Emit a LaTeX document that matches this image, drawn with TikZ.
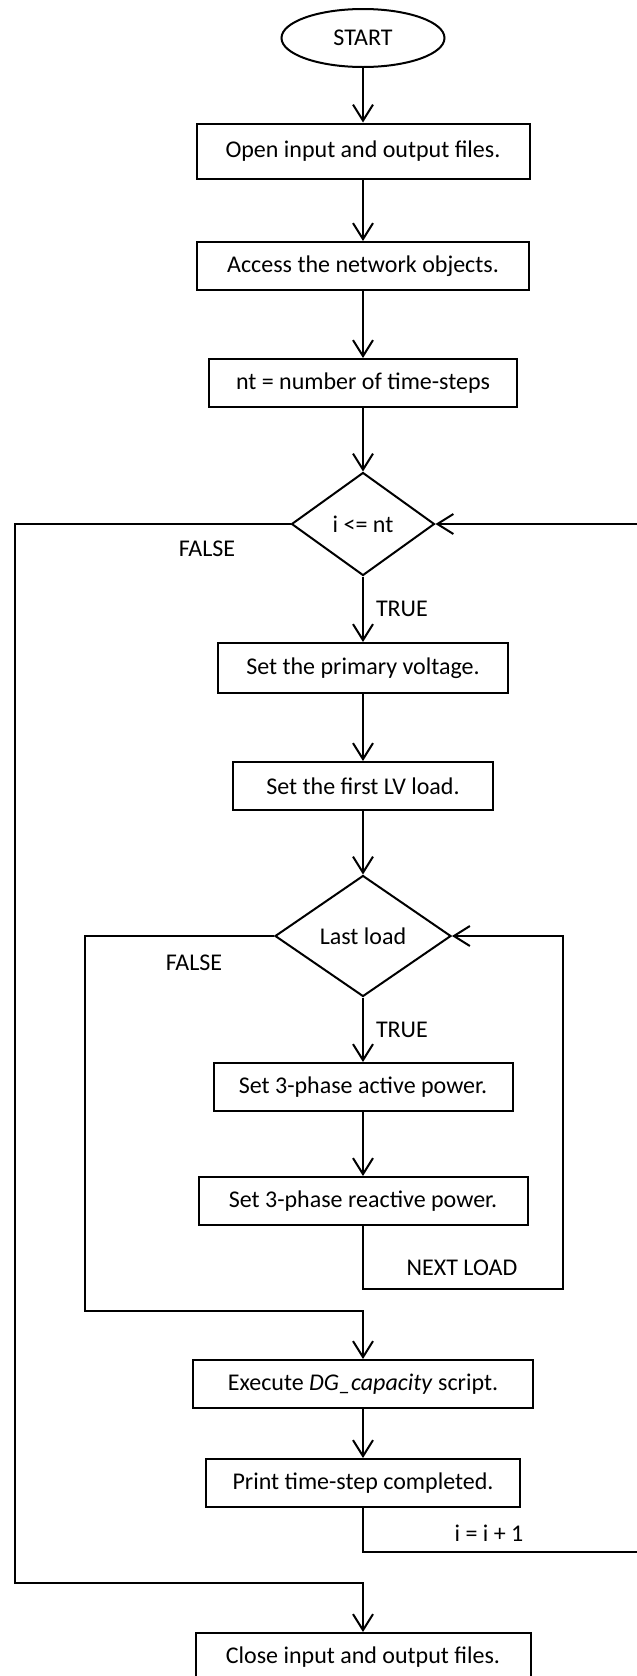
\documentclass[tikz,border=0pt]{standalone}
\usepackage{fontspec}
\setmainfont{Carlito}
\usepackage{tikz}
\usetikzlibrary{shapes.geometric,arrows.meta}
\tikzset{
  block/.style = {draw, rectangle, minimum height=24pt, inner sep=0pt},
  decision/.style = {draw, diamond, inner sep=0pt},
  terminal/.style = {draw, ellipse, inner sep=0pt},
  tag/.style = {inner sep=0pt},
  line/.style = {draw, -{Straight Barb[length=8pt,width=10pt]}},
}

\begin{document}
\begin{tikzpicture}[x=0.5pt,y=-0.5pt,line width=1pt,font=\fontsize{12}{14}\selectfont]
  \useasboundingbox (0,0) rectangle (637,1676);

  % main column
  \node[terminal, minimum width=81.5pt, minimum height=29pt] (start) at (363,38) {START};
  \node[block, minimum width=166.5pt, minimum height=27.5pt] (open) at (363,151) {Open input and output files.};
  \node[block, minimum width=166pt] (access) at (363,266) {Access the network objects.};
  \node[block, minimum width=154pt] (nt) at (363,383) {nt = number of time-steps};
  \node[decision, minimum width=71.5pt, minimum height=51.5pt] (time) at (363,524) {i <= nt};
  \node[block, minimum width=145pt, minimum height=25pt] (volt) at (363,668) {Set the primary voltage.};
  \node[block, minimum width=130pt] (first) at (363,786) {Set the first LV load.};
  \node[decision, minimum width=88pt, minimum height=60.5pt] (last) at (363,936) {Last load};
  \node[block, minimum width=149.5pt] (active) at (363,1087) {Set 3-phase active power.};
  \node[block, minimum width=164.5pt] (reactive) at (363,1201) {Set 3-phase reactive power.};
  \node[block, minimum width=170pt] (exec) at (363,1384) {Execute \textit{DG\_capacity} script.};
  \node[block, minimum width=157pt] (print) at (363,1483) {Print time-step completed.};
  \node[block, minimum width=167.5pt] (close) at (363,1657) {Close input and output files.};

  % straight flow
  \draw[line] (start) -- (open);
  \draw[line] (open) -- (access);
  \draw[line] (access) -- (nt);
  \draw[line] (nt) -- (time);
  \draw[line] (time) -- (volt) node[tag, midway, right=6pt] (true1) {TRUE};
  \draw[line] (volt) -- (first);
  \draw[line] (first) -- (last);
  \draw[line] (last) -- (active) node[tag, midway, right=6pt] (true2) {TRUE};
  \draw[line] (active) -- (reactive);
  \draw[line] (exec) -- (print);

  % FALSE branches
  \coordinate (outer) at (15,1583);
  \coordinate (inner) at (85,1311);
  \draw[line] (time.west) -| (outer) -| (close.north);
  \draw[line] (last.west) -| (inner) -| (exec.north);
  \node[tag] (false1) at (207,549) {FALSE};
  \node[tag] (false2) at (194,963) {FALSE};

  % loop returns
  \coordinate (nextld) at (563,1289);
  \coordinate (nextstep) at (650,1552);
  \draw[line] (reactive.south) |- (nextld) |- (last.east);
  \draw[line] (print.south) |- (nextstep) |- (time.east);
  \node[tag] (nextlab) at (462,1268) {NEXT LOAD};
  \node[tag] (inclab) at (489,1533) {i = i + 1};
\end{tikzpicture}
\end{document}
